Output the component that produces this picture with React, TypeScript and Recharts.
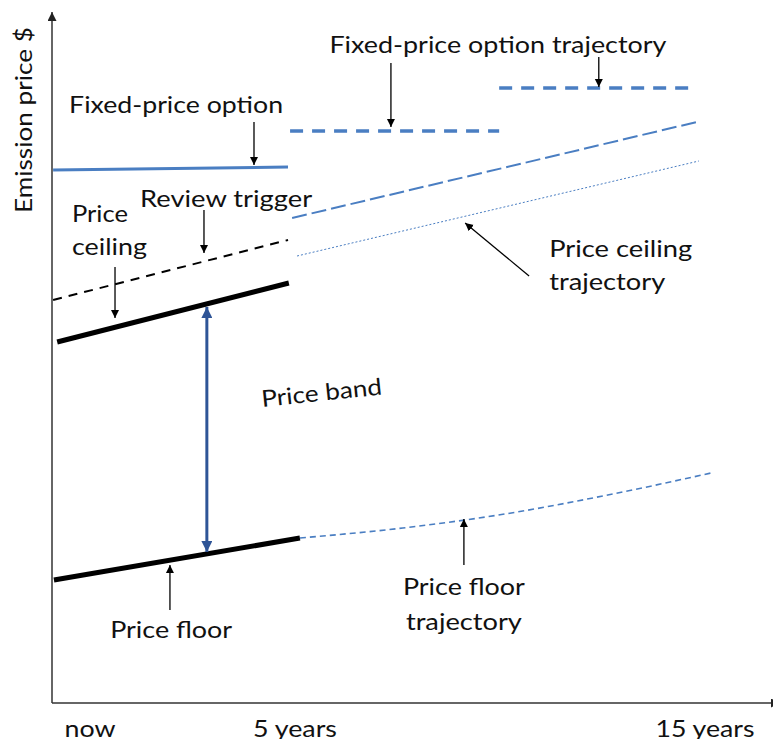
import React from 'react';
import { LineChart, Line, XAxis, YAxis, ReferenceLine, ReferenceDot, Label } from 'recharts';

const FONT = 'Lato, "Open Sans", sans-serif';

// x: years from now, y: emission price (schematic units)
const fixedOption = [{ x: -0.9, y: 53.3 }, { x: 4.83, y: 53.6 }];
const reviewTrigger = [{ x: -0.9, y: 40.3 }, { x: 4.83, y: 46.3 }];
const priceCeiling = [{ x: -0.8, y: 36.1 }, { x: 4.85, y: 42.0 }];
const priceFloor = [{ x: -0.88, y: 12.3 }, { x: 5.12, y: 16.5 }];
const floorTrajectory = [
  { x: 5.12, y: 16.5 },
  { x: 7.63, y: 17.5 },
  { x: 10.12, y: 18.9 },
  { x: 12.63, y: 20.8 },
  { x: 15.15, y: 23.0 },
];
const fixedTrajectoryA = [{ x: 4.88, y: 57.2 }, { x: 9.98, y: 57.2 }];
const fixedTrajectoryB = [{ x: 9.98, y: 61.5 }, { x: 14.8, y: 61.5 }];
const reviewTrajectory = [{ x: 4.93, y: 48.5 }, { x: 14.8, y: 58.1 }];
const ceilingTrajectory = [{ x: 5.05, y: 44.7 }, { x: 14.85, y: 54.2 }];
const priceBand = { x: 2.85, low: 15.1, high: 39.6 };

const xTicks = [0, 5, 15];
const xTickLabels: Record<number, string> = { 0: 'now', 5: '5 years', 15: '15 years' };
const yAxisTitle = 'Emission price $';

// annotation arrows: from (x1,y1) to tip (x2,y2)
const annotationArrows = [
  { x1: 4.0, y1: 58.1, x2: 4.0, y2: 53.8 },
  { x1: 2.78, y1: 49.3, x2: 2.78, y2: 45.0 },
  { x1: 0.61, y1: 43.6, x2: 0.61, y2: 38.5 },
  { x1: 7.34, y1: 64.0, x2: 7.34, y2: 57.6 },
  { x1: 12.41, y1: 64.6, x2: 12.41, y2: 61.6 },
  { x1: 10.71, y1: 42.7, x2: 9.15, y2: 48.0 },
  { x1: 1.95, y1: 9.3, x2: 1.95, y2: 13.8 },
  { x1: 9.12, y1: 13.8, x2: 9.12, y2: 18.4 },
];

// annotation texts anchored at (x, y baseline)
const annotationTexts = [
  { text: 'Fixed-price option', x: 2.1, y: 59.0, anchor: 'middle' },
  { text: 'Review trigger', x: 3.32, y: 49.6, anchor: 'middle' },
  { text: 'Price', x: -0.44, y: 48.1, anchor: 'start' },
  { text: 'ceiling', x: -0.44, y: 44.8, anchor: 'start' },
  { text: 'Fixed-price option trajectory', x: 9.95, y: 65.0, anchor: 'middle' },
  { text: 'Price ceiling', x: 11.2, y: 44.6, anchor: 'start' },
  { text: 'trajectory', x: 11.2, y: 41.3, anchor: 'start' },
  { text: 'Price band', x: 4.2, y: 29.6, anchor: 'start', rotate: -6 },
  { text: 'Price floor', x: 1.98, y: 6.5, anchor: 'middle' },
  { text: 'Price floor', x: 9.12, y: 10.8, anchor: 'middle' },
  { text: 'trajectory', x: 9.12, y: 7.3, anchor: 'middle' },
];

const textWidths: Record<string, number> = {
  'Fixed-price option': 214,
  'Review trigger': 172,
  Price: 56,
  ceiling: 75,
  'Fixed-price option trajectory': 337,
  'Price ceiling': 143,
  trajectory: 116,
  'Price band': 121,
  'Price floor': 122,
  now: 51,
  '5 years': 84,
  '15 years': 99,
};

const BLUE = '#4A7EC2';
const DARK_BLUE = '#2F5597';

const XTick = (p: any) => {
  const label = xTickLabels[p.payload.value];
  return (
    <text x={p.x} y={p.y} dy={26} textAnchor="middle" fontFamily={FONT} fontSize={23} fill="#111" textLength={textWidths[label]} lengthAdjust="spacingAndGlyphs">
      {label}
    </text>
  );
};

export default function App() {
  return (
    <div style={{ margin: -8 }}>
      <LineChart width={781} height={747} margin={{ top: 12, right: 1, bottom: 0, left: 0 }}>
        <defs>
          <marker id="arrBlack" viewBox="0 0 10 10" refX="10" refY="5" markerWidth="8" markerHeight="9" markerUnits="userSpaceOnUse" orient="auto-start-reverse">
            <path d="M0,0 L10,5 L0,10 z" fill="#000" />
          </marker>
          <marker id="arrAxis" viewBox="0 0 10 10" refX="10" refY="5" markerWidth="10" markerHeight="9" markerUnits="userSpaceOnUse" orient="auto-start-reverse">
            <path d="M0,0 L10,5 L0,10 z" fill="#222" />
          </marker>
          <marker id="arrBlue" viewBox="0 0 10 10" refX="10" refY="5" markerWidth="11" markerHeight="11" markerUnits="userSpaceOnUse" orient="auto-start-reverse">
            <path d="M0,0 L10,5 L0,10 z" fill={DARK_BLUE} />
          </marker>
        </defs>
        <XAxis
          type="number"
          dataKey="x"
          domain={[-0.927, 16.83]}
          allowDataOverflow
          ticks={xTicks}
          tick={<XTick />}
          tickLine={false}
          height={44}
          axisLine={{ stroke: '#333', strokeWidth: 1.5, markerEnd: 'url(#arrAxis)' }}
        />
        <YAxis
          type="number"
          dataKey="y"
          domain={[0, 69.1]}
          allowDataOverflow
          width={52}
          tick={false}
          tickLine={false}
          axisLine={{ stroke: '#333', strokeWidth: 1.5, markerStart: 'url(#arrAxis)' }}
        >
          <Label
            content={(p: any) => {
              const vb = p.viewBox || { x: 0, y: 12 };
              const cx = vb.x + 32;
              const cy = vb.y + 108;
              return (
                <text x={cx} y={cy} transform={`rotate(-90 ${cx} ${cy})`} textAnchor="middle" fontFamily={FONT} fontSize={24} fill="#111" textLength={186} lengthAdjust="spacingAndGlyphs">
                  {yAxisTitle}
                </text>
              );
            }}
          />
        </YAxis>

        <Line data={fixedOption} dataKey="y" stroke={BLUE} strokeWidth={3} dot={false} isAnimationActive={false} />
        <Line data={reviewTrigger} dataKey="y" stroke="#000" strokeWidth={2} strokeDasharray="9 7" dot={false} isAnimationActive={false} />
        <Line data={priceCeiling} dataKey="y" stroke="#000" strokeWidth={5} dot={false} isAnimationActive={false} />
        <Line data={priceFloor} dataKey="y" stroke="#000" strokeWidth={5} dot={false} isAnimationActive={false} />
        <Line data={floorTrajectory} dataKey="y" type="monotone" stroke={BLUE} strokeWidth={1.6} strokeDasharray="6 4" dot={false} isAnimationActive={false} />
        <Line data={fixedTrajectoryA} dataKey="y" stroke={BLUE} strokeWidth={3.5} strokeDasharray="13 9" dot={false} isAnimationActive={false} />
        <Line data={fixedTrajectoryB} dataKey="y" stroke={BLUE} strokeWidth={3.5} strokeDasharray="13 9" dot={false} isAnimationActive={false} />
        <Line data={reviewTrajectory} dataKey="y" stroke={BLUE} strokeWidth={2} strokeDasharray="15 5" dot={false} isAnimationActive={false} />
        <Line data={ceilingTrajectory} dataKey="y" stroke={BLUE} strokeWidth={1} strokeDasharray="2 2" dot={false} isAnimationActive={false} />

        <ReferenceLine
          segment={[{ x: priceBand.x, y: priceBand.low }, { x: priceBand.x, y: priceBand.high }]}
          ifOverflow="visible"
          shape={(p: any) => (
            <line x1={p.x1} y1={p.y1} x2={p.x2} y2={p.y2} stroke={DARK_BLUE} strokeWidth={3} markerStart="url(#arrBlue)" markerEnd="url(#arrBlue)" />
          )}
        />

        {annotationArrows.map((a, i) => (
          <ReferenceLine
            key={'a' + i}
            segment={[{ x: a.x1, y: a.y1 }, { x: a.x2, y: a.y2 }]}
            ifOverflow="visible"
            shape={(p: any) => (
              <line x1={p.x1} y1={p.y1} x2={p.x2} y2={p.y2} stroke="#000" strokeWidth={1.3} markerEnd="url(#arrBlack)" />
            )}
          />
        ))}

        {annotationTexts.map((t, i) => (
          <ReferenceDot
            key={'t' + i}
            x={t.x}
            y={t.y}
            ifOverflow="visible"
            shape={(p: any) => (
              <text
                x={p.cx}
                y={p.cy}
                textAnchor={t.anchor as any}
                fontFamily={FONT}
                fontSize={23}
                fill="#111"
                textLength={textWidths[t.text]}
                lengthAdjust="spacingAndGlyphs"
                transform={t.rotate ? `rotate(${t.rotate} ${p.cx} ${p.cy})` : undefined}
              >
                {t.text}
              </text>
            )}
          />
        ))}
      </LineChart>
    </div>
  );
}
